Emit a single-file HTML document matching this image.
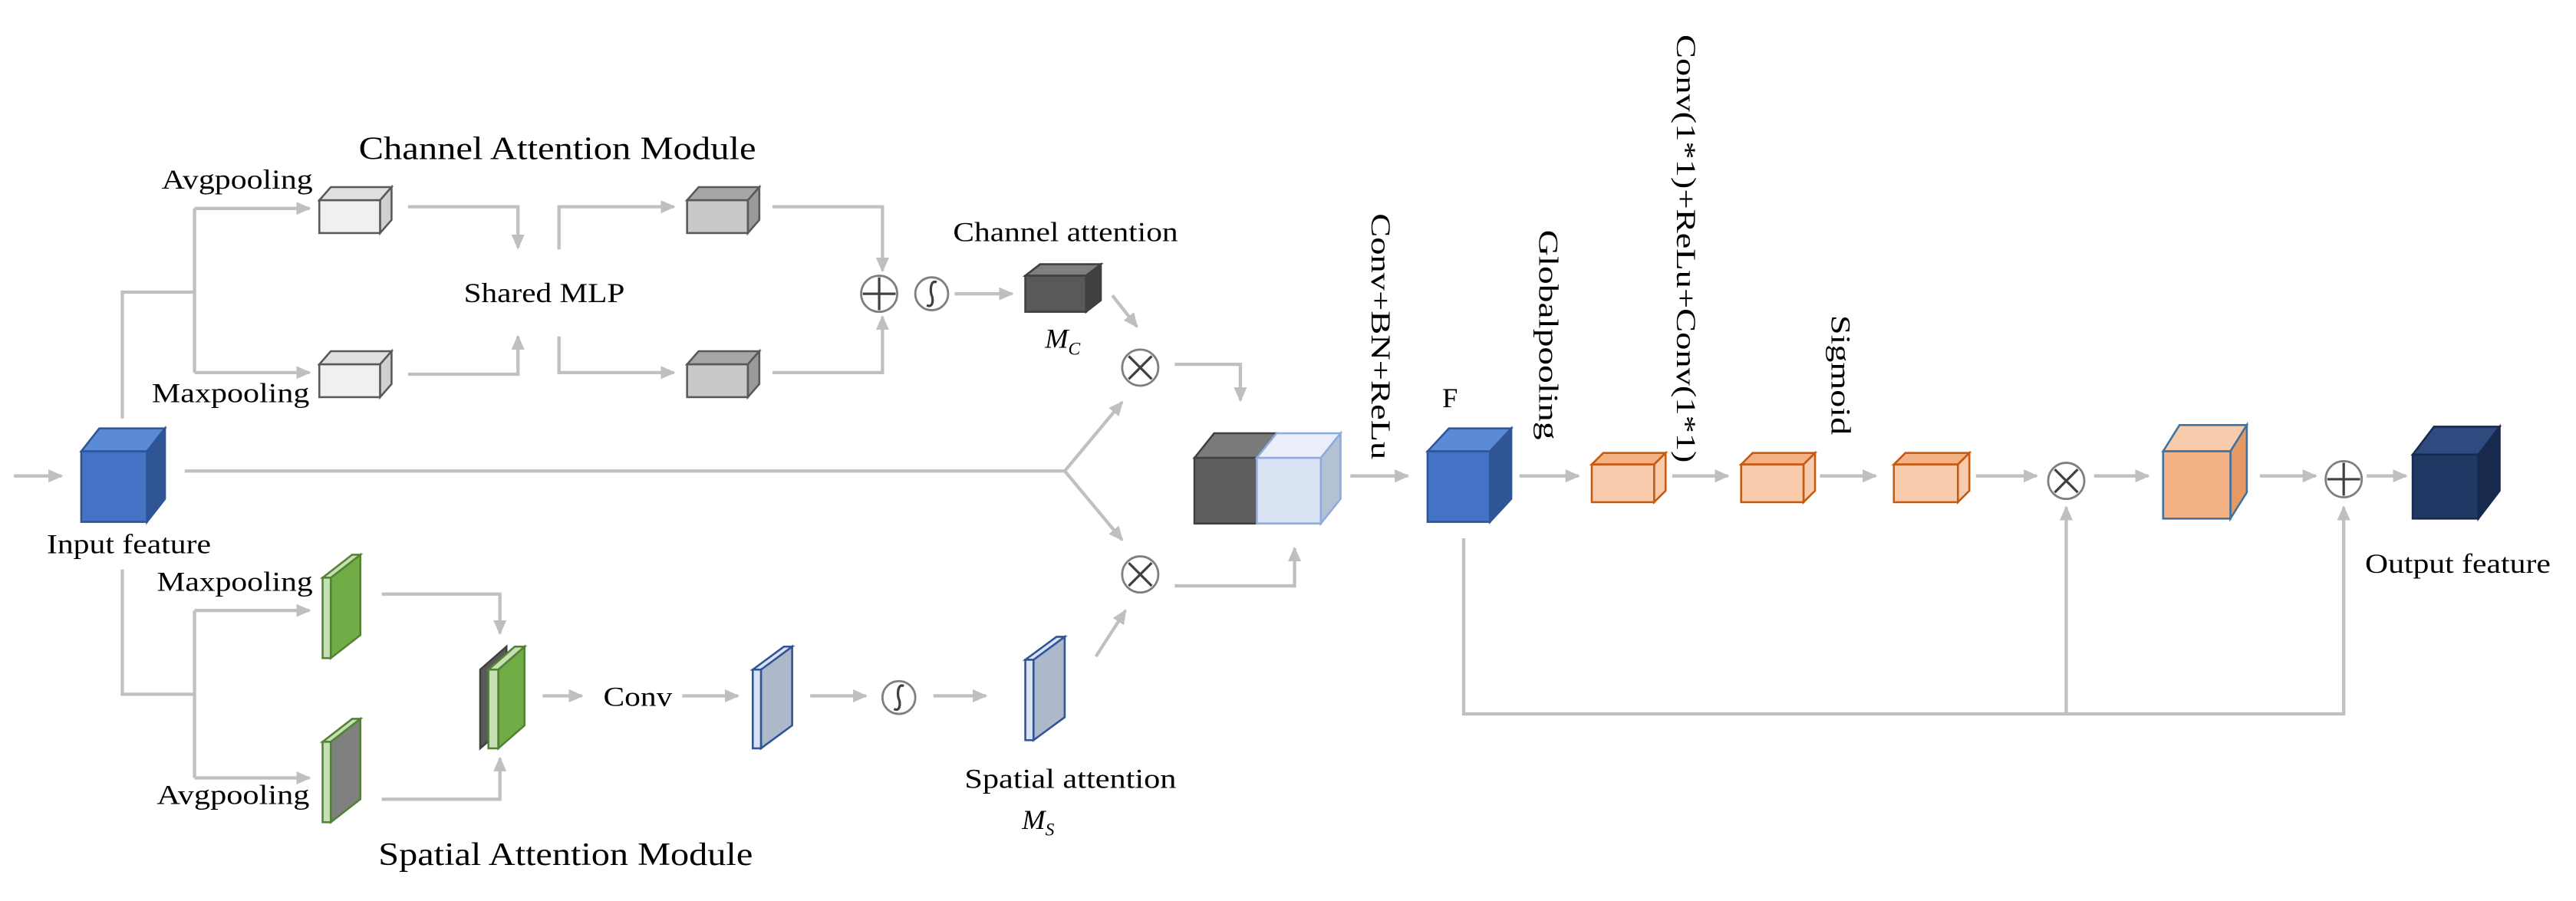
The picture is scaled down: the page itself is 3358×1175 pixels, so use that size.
<!DOCTYPE html>
<html><head><meta charset="utf-8"><style>html,body{margin:0;padding:0;background:#fff}svg{display:block}</style></head>
<body>
<svg width="3358" height="1175" viewBox="0 0 1568 549" xmlns="http://www.w3.org/2000/svg" font-family="'Liberation Serif', serif" fill="#000">
<defs>
<marker id="a" markerUnits="userSpaceOnUse" markerWidth="10" markerHeight="10" refX="8" refY="5" orient="auto"><path d="M0,1 L9,5 L0,9 Z" fill="#bfbfbf"/></marker>
</defs>
<rect width="1568" height="549" fill="#fff"/>
<g stroke="#c0c0c0" stroke-width="2" fill="none">
<!-- input -->
<path d="M8,290 H37" marker-end="url(#a)"/>
<!-- channel branch -->
<path d="M74,255 V178 H118"/>
<path d="M118,127 V227"/>
<path d="M118,127 H188" marker-end="url(#a)"/>
<path d="M118,227 H188" marker-end="url(#a)"/>
<path d="M248,126 H315 V151" marker-end="url(#a)"/>
<path d="M248,228 H315 V205" marker-end="url(#a)"/>
<path d="M340,152 V126 H410" marker-end="url(#a)"/>
<path d="M340,205 V227 H410" marker-end="url(#a)"/>
<path d="M470,126 H537 V165" marker-end="url(#a)"/>
<path d="M470,227 H537 V193" marker-end="url(#a)"/>
<path d="M581,179 H616" marker-end="url(#a)"/>
<path d="M677,180 L692,199" marker-end="url(#a)"/>
<path d="M715,222 H755 V244" marker-end="url(#a)"/>
<!-- main line -->
<path d="M112,287 H648"/>
<path d="M648,287 L683,245" marker-end="url(#a)"/>
<path d="M648,287 L683,329" marker-end="url(#a)"/>
<path d="M715,357 H788 V334" marker-end="url(#a)"/>
<!-- spatial branch -->
<path d="M74,347 V423 H118"/>
<path d="M118,372 V474"/>
<path d="M118,372 H188" marker-end="url(#a)"/>
<path d="M118,474 H188" marker-end="url(#a)"/>
<path d="M232,362 H304 V386" marker-end="url(#a)"/>
<path d="M232,487 H304 V462" marker-end="url(#a)"/>
<path d="M330,424 H354" marker-end="url(#a)"/>
<path d="M415,424 H449" marker-end="url(#a)"/>
<path d="M493,424 H527" marker-end="url(#a)"/>
<path d="M568,424 H600" marker-end="url(#a)"/>
<path d="M667,400 L685,372" marker-end="url(#a)"/>
<!-- right part -->
<path d="M822,290 H857" marker-end="url(#a)"/>
<path d="M925,290 H961" marker-end="url(#a)"/>
<path d="M1018,290 H1052" marker-end="url(#a)"/>
<path d="M1108,290 H1142" marker-end="url(#a)"/>
<path d="M1203,290 H1240" marker-end="url(#a)"/>
<path d="M1275,290 H1308" marker-end="url(#a)"/>
<path d="M1376,290 H1410" marker-end="url(#a)"/>
<path d="M1441,290 H1465" marker-end="url(#a)"/>
<path d="M891,328 V435 H1427 V309" marker-end="url(#a)"/>
<path d="M1258,435 V309" marker-end="url(#a)"/>
</g>

<!-- operators -->
<g stroke="#7f7f7f" stroke-width="1.3" fill="#fff">
<circle cx="535" cy="179" r="11"/><circle cx="567" cy="179" r="10"/>
<circle cx="694" cy="224" r="11"/><circle cx="694" cy="350" r="11"/>
<circle cx="547" cy="425" r="10"/>
<circle cx="1258" cy="293" r="11"/><circle cx="1427" cy="292" r="11"/>
</g>
<g stroke="#404040" stroke-width="1.5" fill="none">
<path d="M535,169 V189 M525,179 H545"/>
<path d="M1427,282 V302 M1417,292 H1437"/>
<path d="M687,217 L701,231 M701,217 L687,231"/>
<path d="M687,343 L701,357 M701,343 L687,357"/>
<path d="M1251,286 L1265,300 M1265,286 L1251,300"/>
<path d="M570,172 C566,170 566,178 567,180 C568,182 568,188 564,186"/>
<path d="M550,418 C546,416 546,424 547,426 C548,428 548,434 544,432"/>
</g>

<!-- cubes -->
<g stroke-width="1.2">
<!-- input -->
<g stroke="#2f5597"><polygon points="49,275 60,261 100,261 89,275" fill="#5b8bd6"/><polygon points="89,275 100,261 100,304 89,318" fill="#2f5597"/><rect x="49" y="275" width="40" height="43" fill="#4472c4"/></g>
<!-- light small boxes -->
<g stroke="#595959"><polygon points="194,122 201,114 238,114 231,122" fill="#e0e0e0"/><polygon points="231,122 238,114 238,134 231,142" fill="#d0d0d0"/><rect x="194" y="122" width="37" height="20" fill="#f0f0f0"/></g>
<g stroke="#595959"><polygon points="194,222 201,214 238,214 231,222" fill="#e0e0e0"/><polygon points="231,222 238,214 238,234 231,242" fill="#d0d0d0"/><rect x="194" y="222" width="37" height="20" fill="#f0f0f0"/></g>
<g stroke="#595959"><polygon points="418,122 425,114 462,114 455,122" fill="#a6a6a6"/><polygon points="455,122 462,114 462,134 455,142" fill="#9a9a9a"/><rect x="418" y="122" width="37" height="20" fill="#c9c9c9"/></g>
<g stroke="#595959"><polygon points="418,222 425,214 462,214 455,222" fill="#a6a6a6"/><polygon points="455,222 462,214 462,234 455,242" fill="#9a9a9a"/><rect x="418" y="222" width="37" height="20" fill="#c9c9c9"/></g>
<!-- channel attention -->
<g stroke="#404040"><polygon points="624,168 633,161 670,161 661,168" fill="#7f7f7f"/><polygon points="661,168 670,161 670,183 661,190" fill="#404040"/><rect x="624" y="168" width="37" height="22" fill="#595959"/></g>
<!-- concat -->
<g stroke="#404040"><polygon points="727,279 739,264 777,264 765,279" fill="#7a7a7a"/><rect x="727" y="279" width="38" height="40" fill="#5f5f5f"/></g>
<g stroke="#8faadc"><polygon points="765,279 777,264 816,264 804,279" fill="#e9eef8"/><polygon points="804,279 816,264 816,304 804,319" fill="#b4c0d4"/><rect x="765" y="279" width="39" height="40" fill="#dae3f3"/></g>
<!-- F -->
<g stroke="#2f5597"><polygon points="869,275 882,261 920,261 907,275" fill="#5b8bd6"/><polygon points="907,275 920,261 920,304 907,318" fill="#2f5597"/><rect x="869" y="275" width="38" height="43" fill="#4472c4"/></g>
<!-- orange small -->
<g stroke="#c55a11"><polygon points="969,283 976,276 1014,276 1007,283" fill="#f4b183"/><polygon points="1007,283 1014,276 1014,299 1007,306" fill="#f8cbad"/><rect x="969" y="283" width="38" height="23" fill="#f8cbad"/></g>
<g stroke="#c55a11"><polygon points="1060,283 1067,276 1105,276 1098,283" fill="#f4b183"/><polygon points="1098,283 1105,276 1105,299 1098,306" fill="#f8cbad"/><rect x="1060" y="283" width="38" height="23" fill="#f8cbad"/></g>
<g stroke="#c55a11"><polygon points="1153,283 1160,276 1199,276 1192,283" fill="#f4b183"/><polygon points="1192,283 1199,276 1199,299 1192,306" fill="#f8cbad"/><rect x="1153" y="283" width="39" height="23" fill="#f8cbad"/></g>
<!-- big orange -->
<g stroke="#41719c"><polygon points="1317,275 1327,259 1368,259 1358,275" fill="#f8cbad"/><polygon points="1358,275 1368,259 1368,300 1358,316" fill="#e59a66"/><rect x="1317" y="275" width="41" height="41" fill="#f4b183"/></g>
<!-- output -->
<g stroke="#172a4d"><polygon points="1469,277 1482,260 1522,260 1509,277" fill="#2f4a7f"/><polygon points="1509,277 1522,260 1522,299 1509,316" fill="#172a4d"/><rect x="1469" y="277" width="40" height="39" fill="#203864"/></g>
<!-- slabs -->
<g stroke="#548235"><polygon points="201,352 219,338 219,387 201,401" fill="#70ad47"/><polygon points="196,352 214,338 219,338 201,352" fill="#c5e0b4"/><rect x="196" y="352" width="5" height="49" fill="#c5e0b4"/></g>
<g stroke="#548235"><polygon points="201,452 219,438 219,487 201,501" fill="#808080"/><polygon points="196,452 214,438 219,438 201,452" fill="#c5e0b4"/><rect x="196" y="452" width="5" height="49" fill="#c5e0b4"/></g>
<g stroke="#404040"><polygon points="292,408 308,394 308,442 292,456" fill="#595959"/></g>
<g stroke="#548235"><polygon points="303,408 319,394 319,442 303,456" fill="#70ad47"/><polygon points="297,408 313,394 319,394 303,408" fill="#c5e0b4"/><rect x="297" y="408" width="6" height="48" fill="#c5e0b4"/></g>
<g stroke="#2f5597"><polygon points="463,408 482,394 482,442 463,456" fill="#adb9ca"/><polygon points="458,408 477,394 482,394 463,408" fill="#dae3f3"/><rect x="458" y="408" width="5" height="48" fill="#dae3f3"/></g>
<g stroke="#2f5597"><polygon points="629,402 648,388 648,437 629,451" fill="#adb9ca"/><polygon points="624,402 643,388 648,388 629,402" fill="#dae3f3"/><rect x="624" y="402" width="5" height="49" fill="#dae3f3"/></g>
</g>

<!-- text -->
<g font-size="17">
<text x="218" y="97" font-size="20" textLength="242" lengthAdjust="spacingAndGlyphs">Channel Attention Module</text>
<text x="98" y="115" textLength="92" lengthAdjust="spacingAndGlyphs">Avgpooling</text>
<text x="92" y="245" textLength="96" lengthAdjust="spacingAndGlyphs">Maxpooling</text>
<text x="282" y="184" textLength="98" lengthAdjust="spacingAndGlyphs">Shared MLP</text>
<text x="580" y="147" textLength="137" lengthAdjust="spacingAndGlyphs">Channel attention</text>
<text x="636" y="212" font-style="italic">M<tspan font-size="11" dy="4">C</tspan></text>
<text x="28" y="337" textLength="100" lengthAdjust="spacingAndGlyphs">Input feature</text>
<text x="95" y="360" textLength="95" lengthAdjust="spacingAndGlyphs">Maxpooling</text>
<text x="95" y="490" textLength="93" lengthAdjust="spacingAndGlyphs">Avgpooling</text>
<text x="367" y="430" textLength="42" lengthAdjust="spacingAndGlyphs">Conv</text>
<text x="587" y="480" textLength="129" lengthAdjust="spacingAndGlyphs">Spatial attention</text>
<text x="622" y="505" font-style="italic">M<tspan font-size="11" dy="4">S</tspan></text>
<text x="230" y="527" font-size="20" textLength="228" lengthAdjust="spacingAndGlyphs">Spatial Attention Module</text>
<text x="878" y="248">F</text>
<text x="1440" y="349" textLength="113" lengthAdjust="spacingAndGlyphs">Output feature</text>
<text transform="translate(835,130) rotate(90)" textLength="150" lengthAdjust="spacingAndGlyphs">Conv+BN+ReLu</text>
<text transform="translate(937,140) rotate(90)" textLength="128" lengthAdjust="spacingAndGlyphs">Globalpooling</text>
<text transform="translate(1021,21) rotate(90)" textLength="261" lengthAdjust="spacingAndGlyphs">Conv(1*1)+ReLu+Conv(1*1)</text>
<text transform="translate(1115,192) rotate(90)" textLength="73" lengthAdjust="spacingAndGlyphs">Sigmoid</text>
</g>
</svg>
</body></html>
